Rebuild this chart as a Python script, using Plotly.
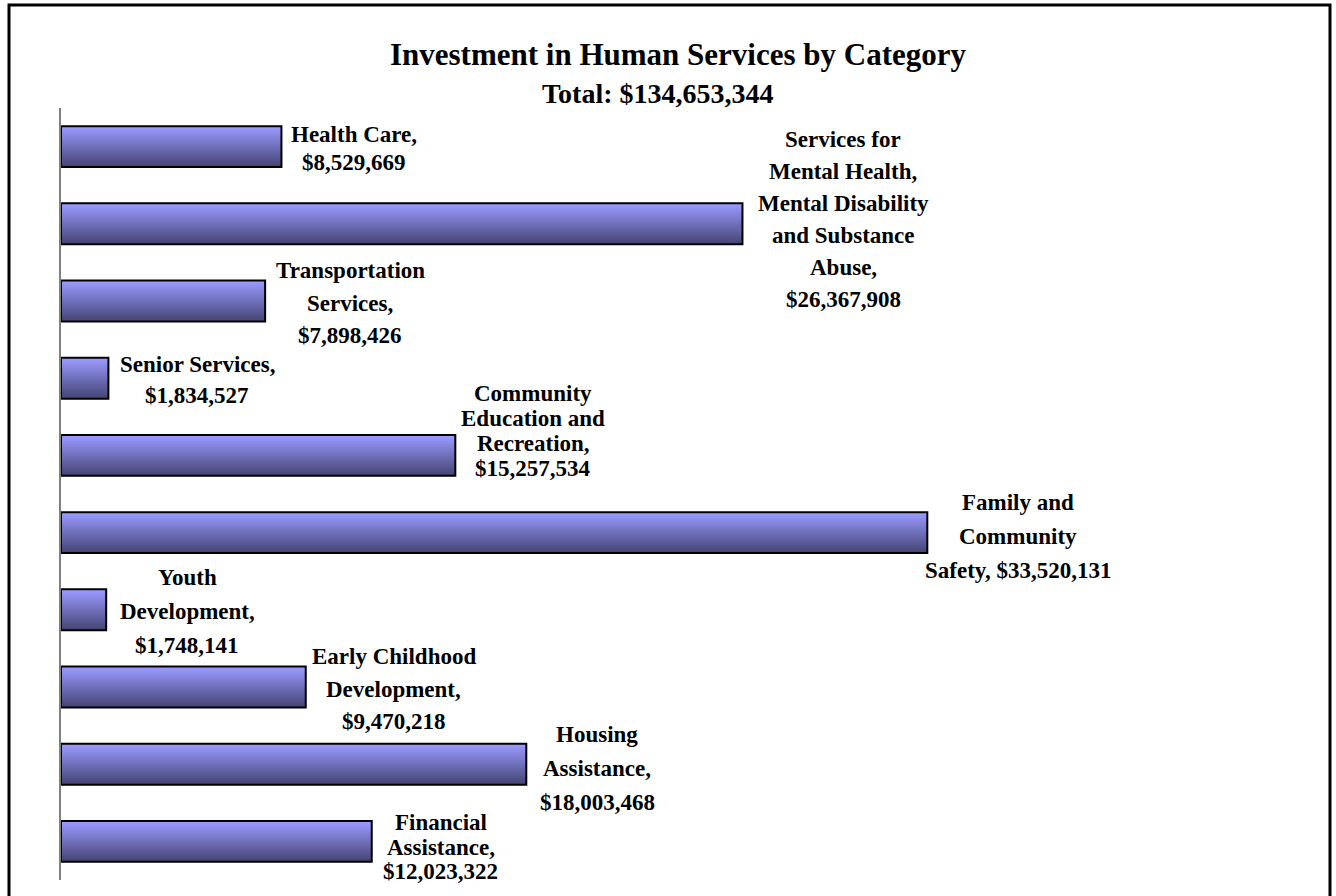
import plotly.graph_objects as go

# ---------------- data ----------------
categories = [
    "Health Care",
    "Services for Mental Health, Mental Disability and Substance Abuse",
    "Transportation Services",
    "Senior Services",
    "Community Education and Recreation",
    "Family and Community Safety",
    "Youth Development",
    "Early Childhood Development",
    "Housing Assistance",
    "Financial Assistance",
]
values = [8529669, 26367908, 7898426, 1834527, 15257534,
          33520131, 1748141, 9470218, 18003468, 12023322]
# wrapped label text; {v} is replaced by the formatted value
label_templates = [
    ["Health Care,", "{v}"],
    ["Services for", "Mental Health,", "Mental Disability", "and Substance", "Abuse,", "{v}"],
    ["Transportation", "Services,", "{v}"],
    ["Senior Services,", "{v}"],
    ["Community", "Education and", "Recreation,", "{v}"],
    ["Family and", "Community", "Safety, {v}"],
    ["Youth", "Development,", "{v}"],
    ["Early Childhood", "Development,", "{v}"],
    ["Housing", "Assistance,", "{v}"],
    ["Financial", "Assistance,", "{v}"],
]
title_text = "Investment in Human Services by Category"
subtitle_text = "Total: $134,653,344"

# ---------------- style ----------------
W, H = 1336, 896
L, R, T, B = 61, 112, 108, 16
PW, PH = W - L - R, H - T - B
FONT = "Liberation Serif"
LABEL_SIZE = 23
label_dx = [73, 101, 85, 89, 78, 91, 81, 88, 71, 69]       # px from bar end to label centre
label_dy = [2, -4, 2, 2, -24, 4, 2, 2, 4, 6]               # px, label centre below bar centre
line_gap = [28, 32, 32.5, 31, 25, 34, 34, 32.5, 34, 24.5]  # px between lines
BAR_W = 0.53
N_BANDS = 20
top_rgb = (154, 154, 255)
bot_rgb = (70, 70, 118)

fig = go.Figure()

# gradient fill: each band runs from its top edge to the bar bottom, later bands cover lower parts
for k in range(N_BANDS):
    t = k / (N_BANDS - 1)
    c = tuple(round(top_rgb[i] + (bot_rgb[i] - top_rgb[i]) * t) for i in range(3))
    bw = BAR_W / N_BANDS
    fig.add_trace(go.Bar(
        y=categories, x=values, orientation="h",
        width=BAR_W - k * bw,
        offset=-BAR_W / 2 + k * bw,
        marker=dict(color=f"rgb{c}", line=dict(width=0)),
        hoverinfo="skip", showlegend=False,
    ))

# outline
fig.add_trace(go.Bar(
    y=categories, x=values, orientation="h",
    width=BAR_W, offset=-BAR_W / 2,
    marker=dict(color="rgba(0,0,0,0)", line=dict(color="black", width=2)),
    hoverinfo="skip", showlegend=False,
))

# labels (one annotation per line)
for i, (cat, v) in enumerate(zip(categories, values)):
    lines = [s.replace("{v}", f"${v:,}") for s in label_templates[i]]
    n = len(lines)
    for j, line in enumerate(lines):
        off = label_dy[i] + (j - (n - 1) / 2) * line_gap[i]
        fig.add_annotation(
            x=v, y=cat, xref="x", yref="y",
            text=line, showarrow=False,
            xanchor="center", yanchor="middle",
            xshift=label_dx[i], yshift=-off,
            font=dict(family=FONT, size=LABEL_SIZE, color="black", weight="bold"),
        )

# subtitle
fig.add_annotation(
    x=(658 - L) / PW, y=(H - B - 94) / PH, xref="paper", yref="paper",
    text=subtitle_text, showarrow=False, xanchor="center", yanchor="middle",
    font=dict(family=FONT, size=28, color="black", weight="bold"),
)

# outer frame
fig.add_shape(
    type="rect", xref="paper", yref="paper",
    x0=(9 - L) / PW, x1=(1330 - L) / PW,
    y0=(H - B - 900) / PH, y1=(H - B - 5) / PH,
    line=dict(color="black", width=3), fillcolor="rgba(0,0,0,0)",
)

fig.update_layout(
    width=W, height=H,
    margin=dict(l=L, r=R, t=T, b=B),
    paper_bgcolor="white", plot_bgcolor="white",
    barmode="overlay",
    title=dict(
        text=title_text, x=678 / W, xanchor="center",
        y=1 - 54 / H, yanchor="middle",
        font=dict(family=FONT, size=31, color="black", weight="bold"),
    ),
    xaxis=dict(range=[0, 45e6], showgrid=False, zeroline=False,
               showticklabels=False, ticks="", showline=False, fixedrange=True),
    yaxis=dict(categoryorder="array", categoryarray=categories,
               autorange=False, range=[9.5, -0.5],
               showgrid=False, zeroline=False, showticklabels=False, ticks="",
               showline=True, linecolor="#808080", linewidth=2, fixedrange=True),
    showlegend=False,
)

fig.write_html("out.html", config={"displayModeBar": False},
               post_script="document.body.style.margin='0';")
